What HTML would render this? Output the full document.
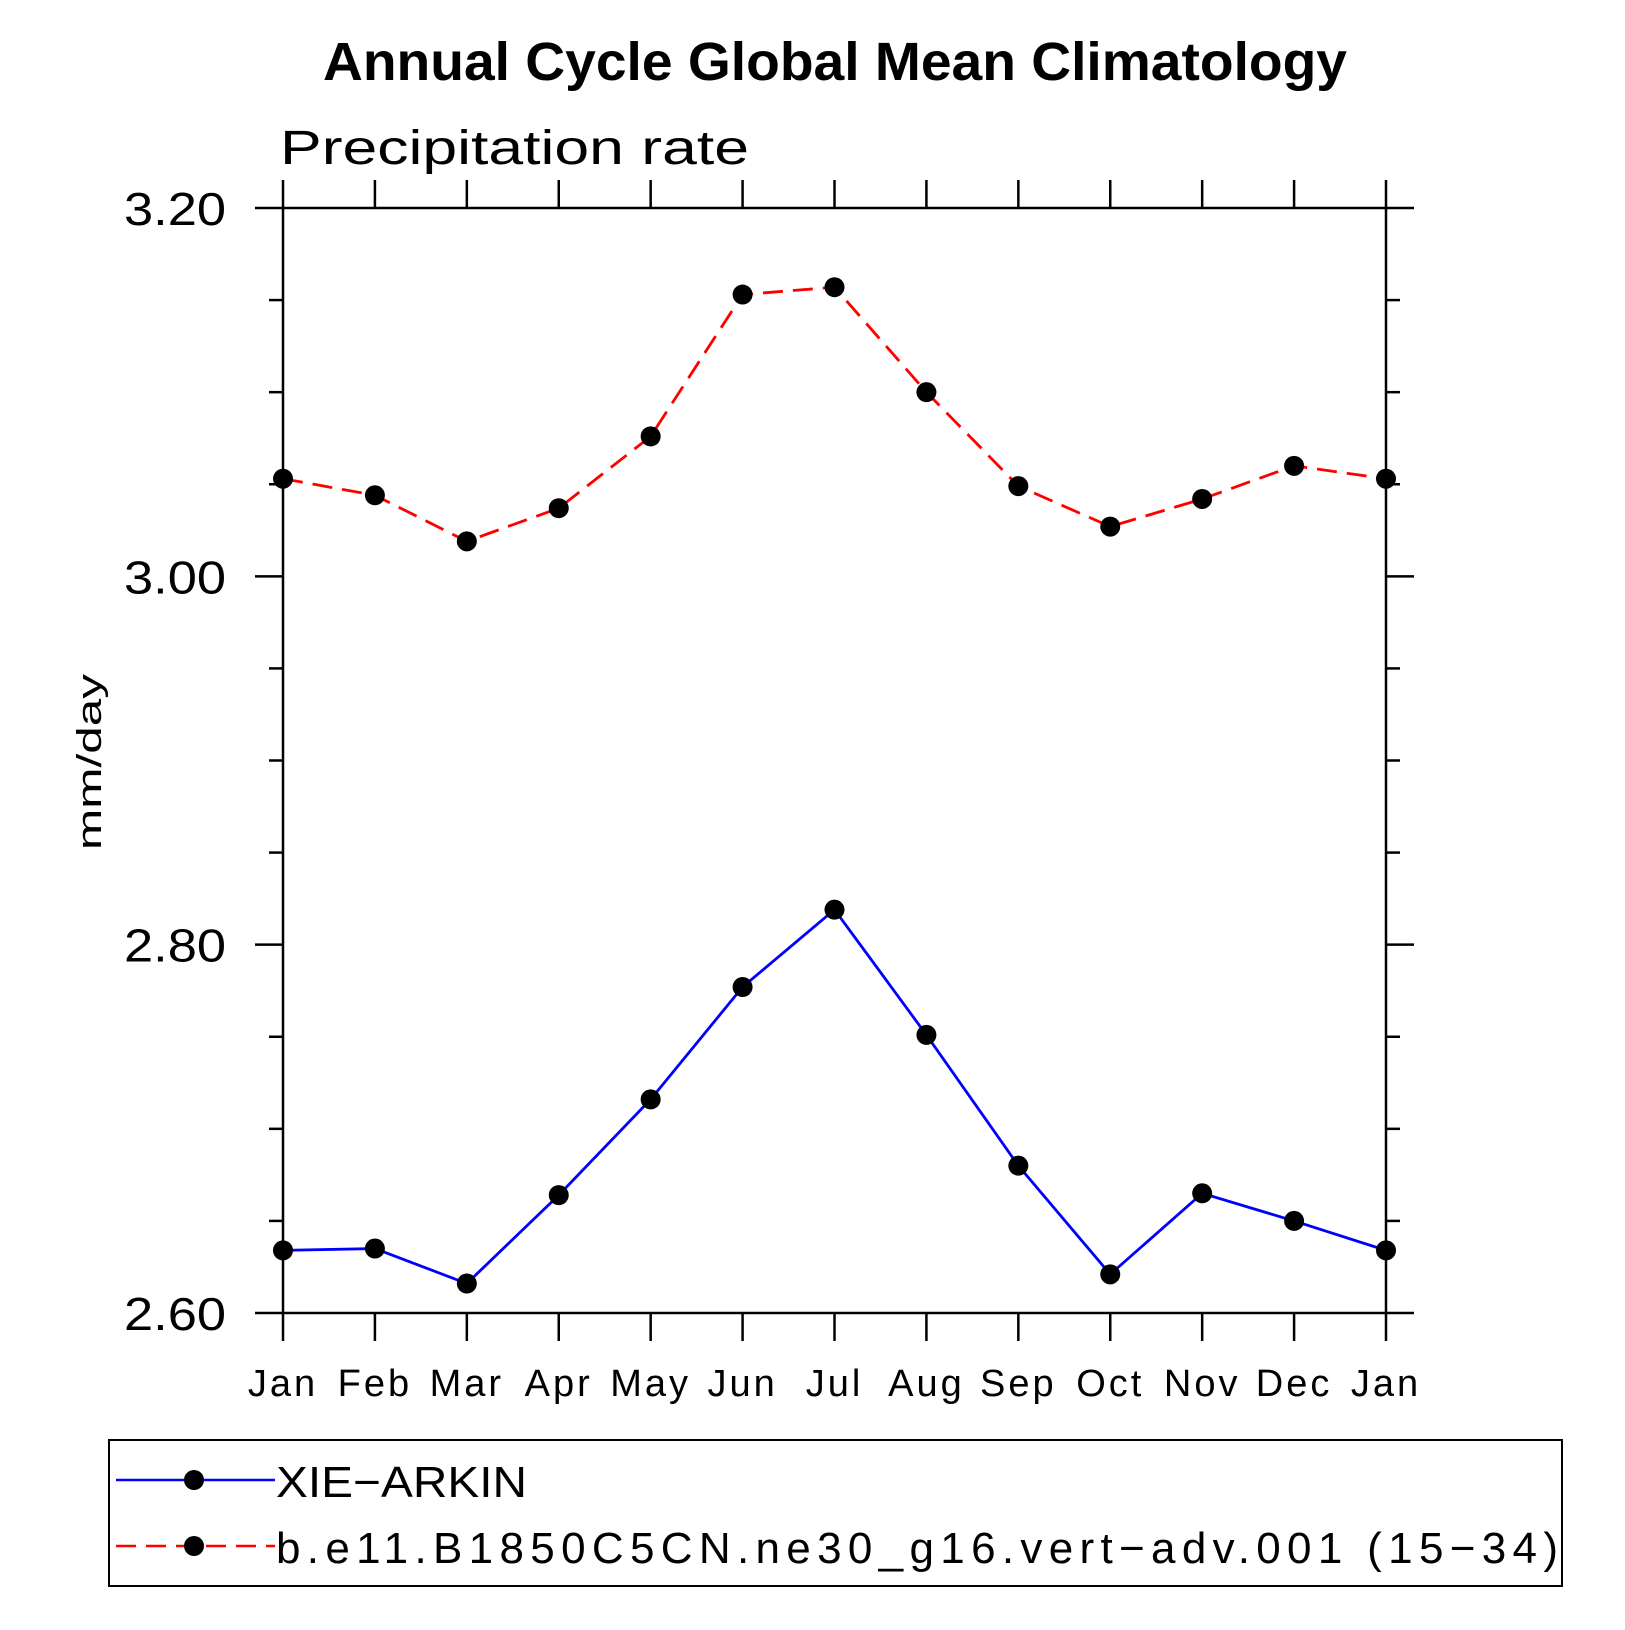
<!DOCTYPE html>
<html><head><meta charset="utf-8"><style>
html,body{margin:0;padding:0;background:#fff;}
svg text{font-family:"Liberation Sans","DejaVu Sans",sans-serif;}
</style></head><body>
<svg id="chart" width="1625" height="1625" viewBox="0 0 1625 1625" xmlns="http://www.w3.org/2000/svg">
<text x="323" y="80" font-size="54" font-weight="bold" textLength="1024" lengthAdjust="spacingAndGlyphs">Annual Cycle Global Mean Climatology</text>
<text x="280" y="164" font-size="48" textLength="469" lengthAdjust="spacingAndGlyphs">Precipitation rate</text>
<text transform="translate(101,762) rotate(-90)" text-anchor="middle" font-size="34" textLength="176" lengthAdjust="spacingAndGlyphs">mm/day</text>
<g id="axes"></g>
<g id="series"></g>
<g id="legend">
<rect x="109" y="1440" width="1453" height="146" fill="none" stroke="#000" stroke-width="2"/>
<g>
<line x1="116" y1="1480" x2="275" y2="1480" stroke="#0000ff" stroke-width="2.5"/>
<circle cx="194" cy="1480" r="10" fill="#000"/>
<text x="276" y="1497" font-size="44" textLength="251" lengthAdjust="spacingAndGlyphs">XIE−ARKIN</text>
</g>
<g>
<line x1="116" y1="1546" x2="275" y2="1546" stroke="#ff0000" stroke-width="2.5" stroke-dasharray="20,10"/>
<circle cx="194" cy="1546" r="10" fill="#000"/>
<text x="276" y="1563" font-size="44" textLength="1282">b.e11.B1850C5CN.ne30_g16.vert−adv.001 (15−34)</text>
</g>
</g>
</svg>
<script>
const months = ["Jan","Feb","Mar","Apr","May","Jun","Jul","Aug","Sep","Oct","Nov","Dec","Jan"];
const obsValues = [2.634,2.635,2.616,2.664,2.716,2.777,2.819,2.751,2.680,2.621,2.665,2.650,2.634];
const modelValues = [3.053,3.044,3.019,3.037,3.076,3.153,3.157,3.100,3.049,3.027,3.042,3.060,3.053];
const yTickLabels = ["2.60","2.80","3.00","3.20"];
const yMin = 2.6, yMax = 3.2;

const NS="http://www.w3.org/2000/svg";
const L=283,R=1386,T=208,B=1313;
const xs = i => L + (R-L)*i/(months.length-1);
const ys = v => B - (B-T)*(v-yMin)/(yMax-yMin);
function mk(tag, attrs, parent){const e=document.createElementNS(NS,tag);for(const k in attrs)e.setAttribute(k,attrs[k]);parent.appendChild(e);return e;}
const ax=document.getElementById('axes');
const frame=mk('rect',{x:L,y:T,width:R-L,height:B-T,fill:'none',stroke:'#000','stroke-width':2.5},ax);


months.forEach((m,i)=>{
  const x=xs(i);
  const tb=mk('line',{x1:x,y1:B,x2:x,y2:B+28,stroke:'#000','stroke-width':2.5},ax);
  
  
  const tt=mk('line',{x1:x,y1:T,x2:x,y2:T-28,stroke:'#000','stroke-width':2.5},ax);
  
  
  const t=mk('text',{x:x,y:1396,'text-anchor':'middle','font-size':38,'letter-spacing':3},ax);
  t.textContent=m;
  
  
});
for(let k=0;k<=12;k++){
  const v=yMin+k*0.05, y=ys(v), major=(k%4===0), len=major?28:14;
  const a=mk('line',{x1:L-len,y1:y,x2:L,y2:y,stroke:'#000','stroke-width':2.5},ax);
  
  
  const b=mk('line',{x1:R,y1:y,x2:R+len,y2:y,stroke:'#000','stroke-width':2.5},ax);
  
  
}
yTickLabels.forEach(lab=>{
  const t=mk('text',{x:124,y:ys(parseFloat(lab))+17,'font-size':46,textLength:102,lengthAdjust:'spacingAndGlyphs'},ax);
  t.textContent=lab;
  
  
});
const sg=document.getElementById('series');
function drawSeries(vals,color,dash,name){
  const pts=vals.map((v,i)=>xs(i)+','+ys(v)).join(' ');
  const pl=mk('polyline',{points:pts,fill:'none',stroke:color,'stroke-width':2.8},sg);
  if(dash) pl.setAttribute('stroke-dasharray',dash);
  
  
  vals.forEach((v,i)=>{
    const c=mk('circle',{cx:xs(i),cy:ys(v),r:10,fill:'#000'},sg);
    
    
  });
}
drawSeries(modelValues,'#ff0000','20,10','model');
drawSeries(obsValues,'#0000ff',null,'xie-arkin');
</script>
</body></html>
